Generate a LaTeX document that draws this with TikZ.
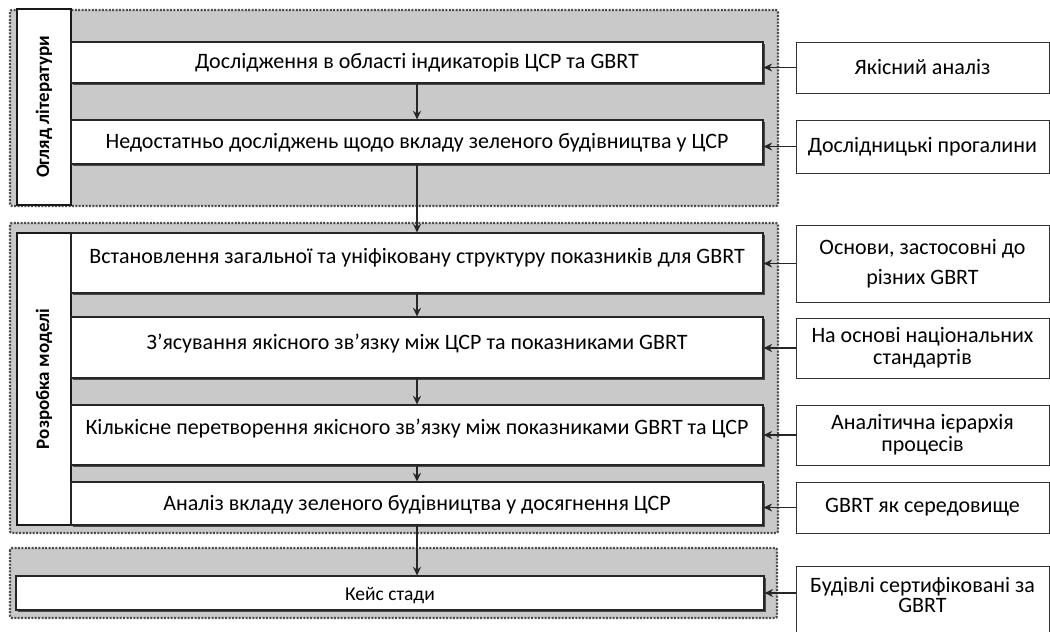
\documentclass[tikz,border=0pt]{standalone}
\usepackage{fontspec}
\setmainfont{Carlito}
\usetikzlibrary{arrows.meta,shadows}
\begin{document}
\begin{tikzpicture}[x=1pt,y=-1pt,
  panel/.style={draw=black!70, fill=black!21, line width=2.2pt, dash pattern=on 2pt off 1.4pt, rounded corners=2pt},
  mainbox/.style={draw=black!85, fill=white, line width=1.2pt, minimum width=692pt, inner sep=0pt,
     font=\fontsize{22}{24}\selectfont, text=black, text height=16pt, text depth=4pt,
     drop shadow={shadow xshift=1.6pt, shadow yshift=-1.6pt, fill=black!70, opacity=1}},
  sidebox/.style={draw=black!80, fill=white, line width=1pt, minimum width=253pt, inner sep=0pt,
     align=center, font=\fontsize{22}{22}\selectfont, text=black},
  lblbox/.style={draw=black!90, fill=white, line width=1.2pt, inner sep=0pt, rotate=90,
     minimum height=54pt, font=\bfseries\fontsize{19}{21}\selectfont},
  arr/.style={draw=black!85, line width=1.7pt, -{Stealth[length=8.5pt,width=8pt]}}
]
\useasboundingbox (0,0) rectangle (1050,632);
\clip (0,0) rectangle (1050,632);

% panels
\path[panel] (10,10) rectangle (778,206);
\path[panel] (10,223) rectangle (778,533);
\path[panel] (10,548) rectangle (777,618);

% label boxes
\node[lblbox, minimum width=196pt] (l1) at (44,107) {Огляд літератури};
\node[lblbox, minimum width=292pt] (l2) at (44,379) {Розробка моделі};

% main boxes
\node[mainbox, minimum height=41pt] (b1) at (417,62.5) {Дослідження в області індикаторів ЦСР та GBRT};
\node[mainbox, minimum height=44pt] (b2) at (417,142) {Недостатньо досліджень щодо вкладу зеленого будівництва у ЦСР};
\node[mainbox, minimum height=60pt, text depth=16pt] (b3) at (417,263) {Встановлення загальної та уніфіковану структуру показників для GBRT};
\node[mainbox, minimum height=61pt, text depth=13pt] (b4) at (417,347.5) {З’ясування якісного зв’язку між ЦСР та показниками GBRT};
\node[mainbox, minimum height=60pt, text depth=18pt] (b5) at (417,435) {Кількісне перетворення якісного зв’язку між показниками GBRT та ЦСР};
\node[mainbox, minimum height=43pt, text depth=2pt] (b6) at (417,503.5) {Аналіз вкладу зеленого будівництва у досягнення ЦСР};
\node[mainbox, minimum width=748pt, minimum height=34pt, font=\fontsize{19.5}{21}\selectfont, text height=17pt, text depth=2pt] (cs) at (390,593) {Кейс стади};

% side boxes
\node[sidebox, minimum height=51pt] (r1) at (922.5,67.5) {Якісний аналіз};
\node[sidebox, minimum height=53pt] (r2) at (922.5,146.5) {Дослідницькі прогалини};
\node[sidebox, minimum height=77pt, font=\fontsize{22}{30}\selectfont] (r3) at (922.5,263.5) {Основи, застосовні до\\різних GBRT};
\node[sidebox, minimum height=60pt] (r4) at (922.5,348) {На основі національних\\стандартів};
\node[sidebox, minimum height=60pt] (r5) at (922.5,435) {Аналітична ієрархія\\процесів};
\node[sidebox, minimum height=51pt] (r6) at (922.5,507.5) {GBRT як середовище};
\node[sidebox, minimum height=90pt] (r7) at (922.5,611) {};
\node[align=center, inner sep=0pt, font=\fontsize{22}{20}\selectfont, text=black] (r7t) at (922.5,595) {Будівлі сертифіковані за\\GBRT};

% vertical arrows
\draw[arr] (b1.south) -- (b2.north);
\draw[arr] (b2.south) -- (b3.north);
\draw[arr] (b3.south) -- (b4.north);
\draw[arr] (b4.south) -- (b5.north);
\draw[arr] (b5.south) -- (b6.north);
\draw[arr] (b6.south) -- (b6.south |- cs.north);

% horizontal arrows
\draw[arr] (r1.west) -- (r1.west -| b1.east);
\draw[arr] (r2.west) -- (r2.west -| b2.east);
\draw[arr] (r3.west) -- (r3.west -| b3.east);
\draw[arr] (r4.west) -- (r4.west -| b4.east);
\draw[arr] (r5.west) -- (r5.west -| b5.east);
\draw[arr] (r6.west) -- (r6.west -| b6.east);
\draw[arr] (cs.east -| r7.west) -- (cs.east);
\end{tikzpicture}
\end{document}
